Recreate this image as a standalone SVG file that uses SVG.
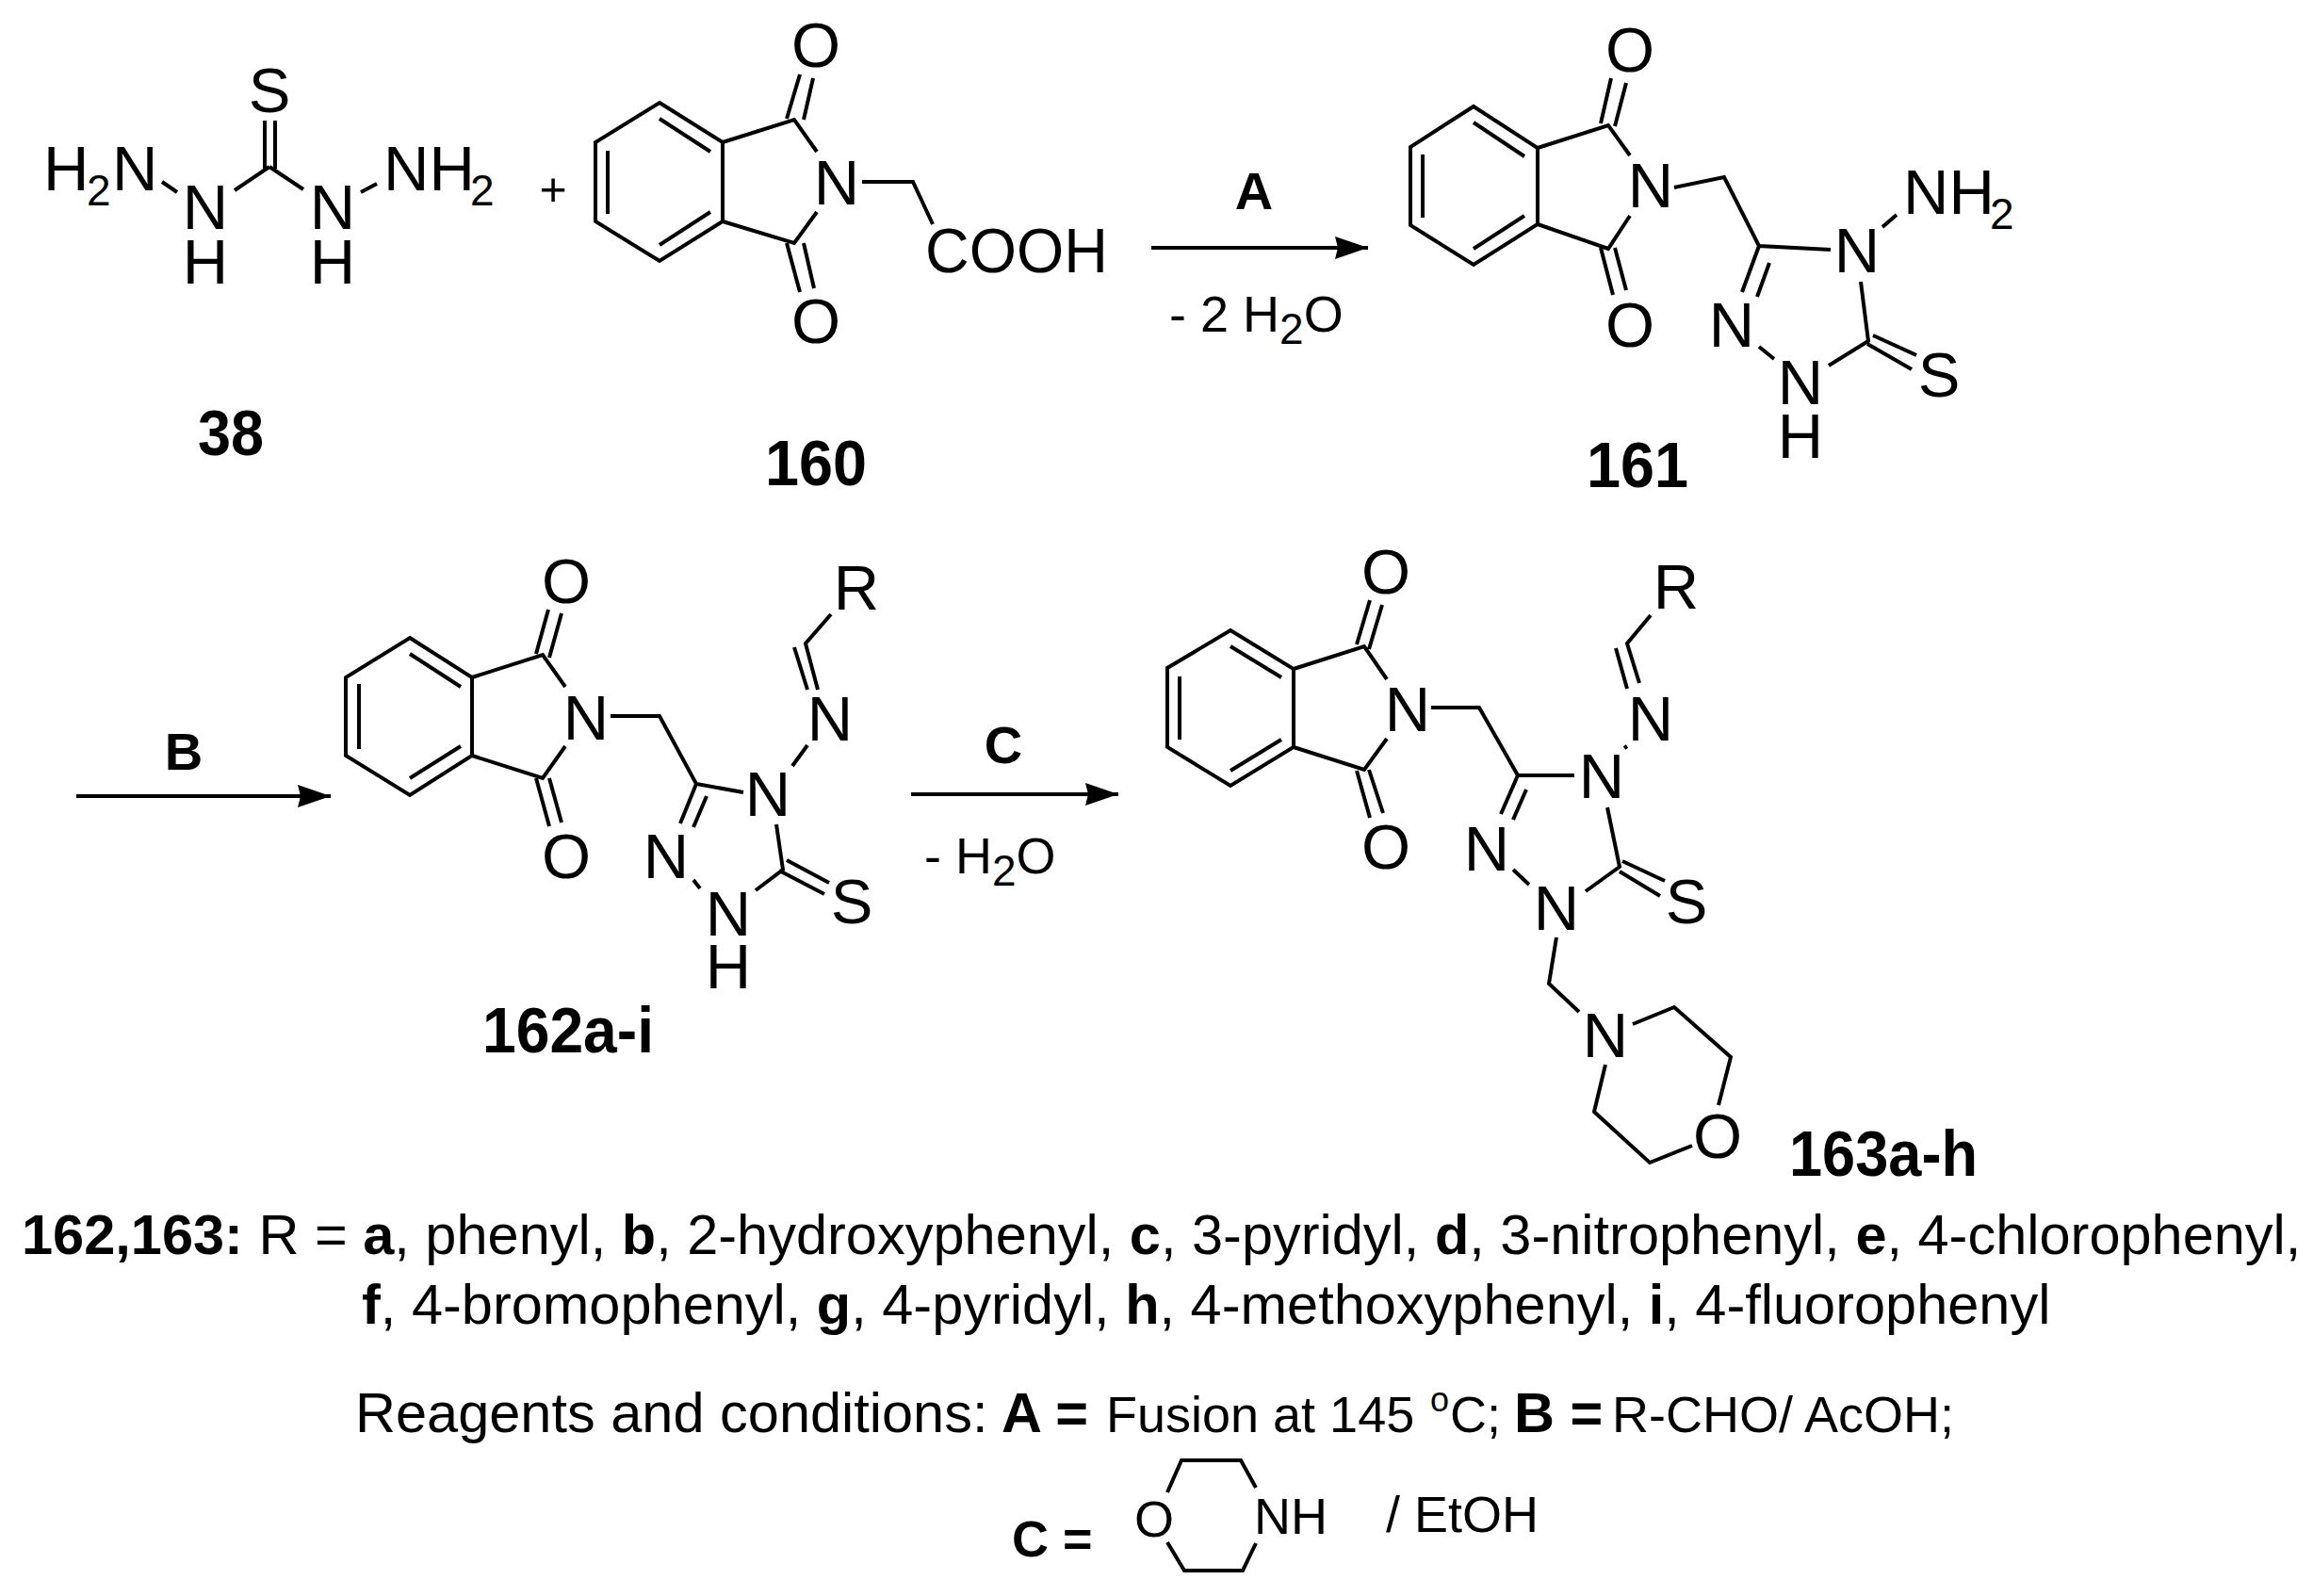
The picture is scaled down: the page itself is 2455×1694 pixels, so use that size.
<svg xmlns="http://www.w3.org/2000/svg" width="2455" height="1694" viewBox="0 0 2455 1694">
<style>
text{font-family:"Liberation Sans",Arial,sans-serif;fill:#000}
.a{font-size:67px}
.s{font-size:46px}
.b{font-weight:700;font-size:69px}
.r{font-weight:700;font-size:56px}
.c{font-size:54px}
.t{font-size:59.5px}
.m{text-anchor:middle}
.w{font-weight:700}
path{fill:none;stroke:#000;stroke-width:4}
</style>
<defs>
<marker id="ah" markerUnits="userSpaceOnUse" markerWidth="40" markerHeight="30" refX="35" refY="12" orient="auto" viewBox="0 0 40 30"><polygon points="0,0 35,12 0,24 3,12" fill="#000"/></marker>
</defs>
<rect width="2455" height="1694" fill="#fff"/>

<g id="connectors">
<path d="M1222,263H1452" marker-end="url(#ah)"/>
<path d="M81,845H351" marker-end="url(#ah)"/>
<path d="M967,843H1187" marker-end="url(#ah)"/>
<text class="r m" x="1331" y="222">A</text>
<text class="r m" x="195" y="817">B</text>
<text class="r m" x="1065" y="810">C</text>
<text class="c" x="1241" y="352">- 2 H<tspan class="s" dy="13">2</tspan><tspan dy="-13">O</tspan></text>
<text class="c" x="981" y="927">- H<tspan class="s" dy="13">2</tspan><tspan dy="-13">O</tspan></text>
<text x="587" y="218" class="m" font-size="50">+</text>
</g>

<g id="compound-38">
<path d="M281,128V179M292,128V179M286,177L249,202M286,177L322,201M172,193L188,204M383,204L400,195"/>
<text class="a m" x="286" y="119">S</text>
<text class="a" x="46" y="202">H<tspan class="s" x="92" dy="16">2</tspan><tspan x="119" dy="-16">N</tspan></text>
<text class="a m" x="218" y="243">N</text>
<text class="a m" x="218" y="301">H</text>
<text class="a m" x="353" y="243">N</text>
<text class="a m" x="353" y="301">H</text>
<text class="a" x="407" y="202">NH<tspan class="s" x="499" dy="16">2</tspan></text>
<text class="b m" x="245" y="483" textLength="70" lengthAdjust="spacingAndGlyphs">38</text>
</g>

<g id="compound-160">
<path d="M700,109L767,151V235L700,277L632,235V151ZM700,126L754,161M700,260L754,225M645,160V227M767,151L843,127L867,161M767,235L843,258L867,225M835,126L849,79M853,127L863,83M835,258L849,310M853,258L864,306M915,193H969L990,238"/>
<text class="a m" x="866" y="71">O</text>
<text class="a m" x="866" y="364">O</text>
<text class="a m" x="888" y="217">N</text>
<text class="a" x="982" y="289" textLength="194" lengthAdjust="spacingAndGlyphs">COOH</text>
<text class="b m" x="866" y="515" textLength="108" lengthAdjust="spacingAndGlyphs">160</text>
</g>

<g id="compound-161">
<path d="M1564,113L1632,157V238L1564,281L1497,239V156ZM1564,130L1618,166M1564,264L1618,229M1510,164V231M1632,157L1707,133L1730,165M1632,238L1707,264L1730,229M1699,131L1710,83M1714,134L1726,88M1699,263L1712,313M1714,263L1726,308M1777,199L1830,188L1867,261L1943,265M1998,241L2013,228M1867,261L1849,310M1878,279L1865,315M1867,368L1883,381M1975,299L1983,362L1941,388M1988,356L2034,377M1982,365L2029,392"/>
<text class="a m" x="1730" y="76">O</text>
<text class="a m" x="1730" y="368">O</text>
<text class="a m" x="1752" y="220">N</text>
<text class="a m" x="1971" y="289">N</text>
<text class="a" x="2020" y="227">NH<tspan class="s" x="2112" dy="16">2</tspan></text>
<text class="a m" x="1838" y="368">N</text>
<text class="a m" x="1911" y="429">N</text>
<text class="a m" x="1911" y="486">H</text>
<text class="a m" x="2058" y="421">S</text>
<text class="b m" x="1738" y="517" textLength="108" lengthAdjust="spacingAndGlyphs">161</text>
</g>

<g id="compound-162">
<path d="M435,677L501,719V802L435,844L367,802V719ZM435,694L489,729M435,826L489,792M381,726V795M501,719L576,695L600,729M501,802L576,826L600,792M569,694L582,647M583,698L596,651M569,826L583,877M583,826L596,873M648,760H700L739,832L789,841M841,813L857,791M868,732L855,683L882,652M843,687L857,732M739,832L722,874M750,845L736,878M736,934L743,943M824,875L831,923L802,945M835,913L880,937M827,924L875,949"/>
<text class="a m" x="601" y="640">O</text>
<text class="a m" x="601" y="932">O</text>
<text class="a m" x="622" y="785">N</text>
<text class="a m" x="815" y="866">N</text>
<text class="a m" x="881" y="786">N</text>
<text class="a m" x="909" y="647">R</text>
<text class="a m" x="707" y="932">N</text>
<text class="a m" x="773" y="993">N</text>
<text class="a m" x="773" y="1049">H</text>
<text class="a m" x="904" y="980">S</text>
<text class="b m" x="603" y="1117" textLength="182" lengthAdjust="spacingAndGlyphs">162a-i</text>
</g>

<g id="compound-163">
<path d="M1306,669L1373,710V793L1306,834L1239,793V709ZM1306,686L1360,719M1306,818L1360,785M1252,718V785M1373,710L1448,686L1472,721M1373,793L1448,817L1472,784M1440,684L1454,637M1453,689L1467,642M1440,818L1454,868M1453,817L1468,863M1519,751H1570L1611,823H1671M1724,794L1727,792M1740,725L1727,683L1752,653M1715,688L1727,731M1611,823L1593,864M1620,838L1606,870M1606,923L1623,939M1706,857L1719,920L1683,946M1722,914L1767,935M1719,925L1762,951M1652,995L1644,1044L1676,1074M1733,1087L1777,1069L1837,1122L1824,1173M1796,1216L1751,1234L1692,1180L1704,1130"/>
<text class="a m" x="1471" y="630">O</text>
<text class="a m" x="1471" y="922">O</text>
<text class="a m" x="1494" y="776">N</text>
<text class="a m" x="1700" y="847">N</text>
<text class="a m" x="1752" y="786">N</text>
<text class="a m" x="1779" y="646">R</text>
<text class="a m" x="1578" y="924">N</text>
<text class="a m" x="1652" y="987">N</text>
<text class="a m" x="1790" y="980">S</text>
<text class="a m" x="1704" y="1122">N</text>
<text class="a m" x="1823" y="1229">O</text>
<text class="b" x="1899" y="1248" textLength="200" lengthAdjust="spacingAndGlyphs">163a-h</text>
</g>

<g id="legend">
<text class="t" x="23" y="1331"><tspan class="w">162,163:</tspan> R = <tspan class="w">a</tspan>, phenyl, <tspan class="w">b</tspan>, 2-hydroxyphenyl, <tspan class="w">c</tspan>, 3-pyridyl, <tspan class="w">d</tspan>, 3-nitrophenyl, <tspan class="w">e</tspan>, 4-chlorophenyl,</text>
<text class="t" x="384" y="1405"><tspan class="w">f</tspan>, 4-bromophenyl, <tspan class="w">g</tspan>, 4-pyridyl, <tspan class="w">h</tspan>, 4-methoxyphenyl, <tspan class="w">i</tspan>, 4-fluorophenyl</text>
<text class="t" x="377" y="1520">Reagents and conditions: <tspan class="w" x="1063">A =</tspan> <tspan font-size="54" x="1174">Fusion at 145 </tspan><tspan font-size="36" x="1518" dy="-22">o</tspan><tspan font-size="54" x="1539" dy="22">C;</tspan> <tspan class="w" x="1607">B =</tspan> <tspan font-size="54" x="1711">R-CHO/ AcOH;</tspan></text>
<text class="c w" x="1074" y="1652">C =</text>
</g>

<g id="morpholine">
<path stroke-width="4.5" d="M1239,1584L1254,1550H1317L1333,1579M1239,1637L1257,1667H1319L1333,1638"/>
<text class="c m" x="1225" y="1631">O</text>
<text class="c" x="1331" y="1628">NH</text>
<text class="c" x="1471" y="1626">/ EtOH</text>
</g>
</svg>
